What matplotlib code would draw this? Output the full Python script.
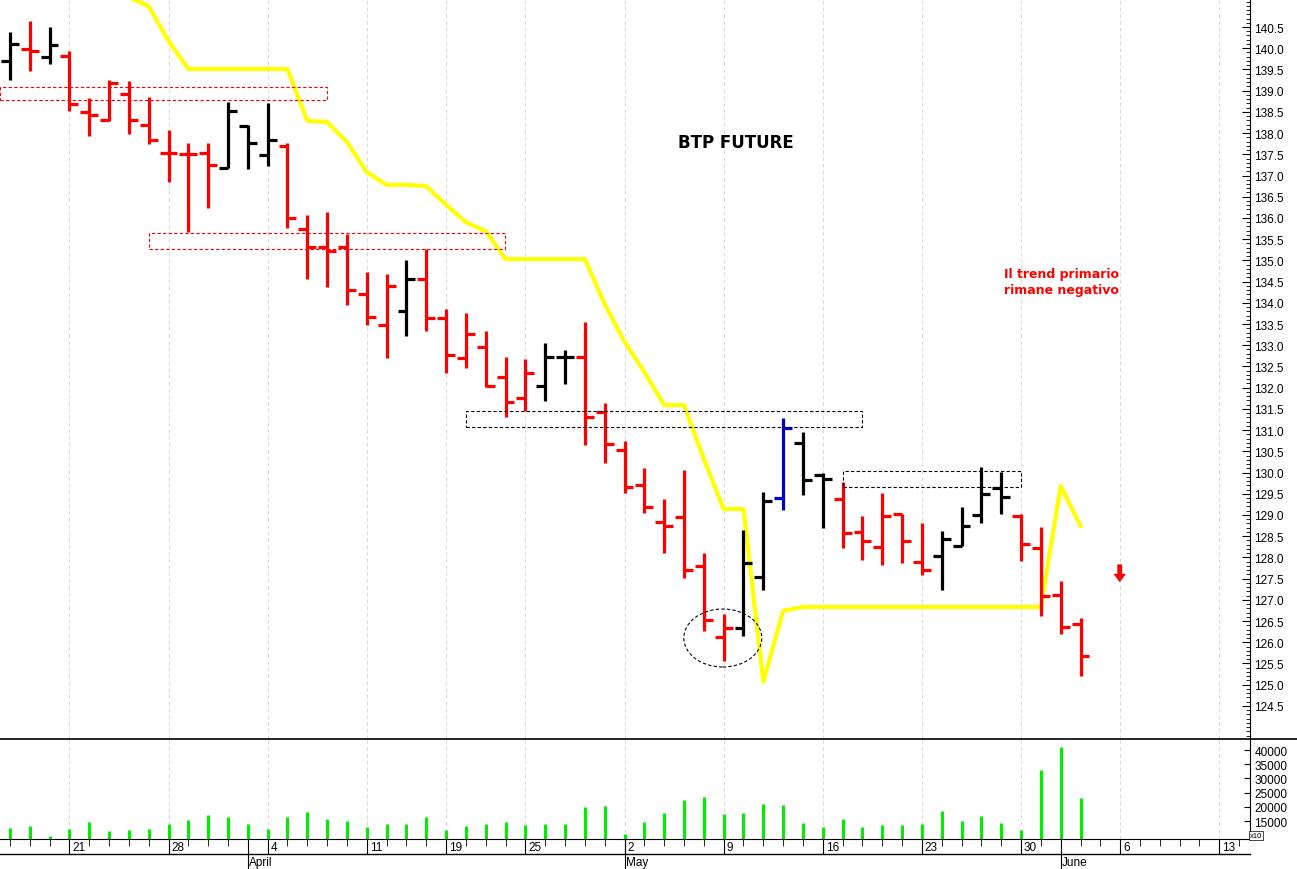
import matplotlib
matplotlib.use("Agg")
import matplotlib.pyplot as plt
from matplotlib.patches import Rectangle, Ellipse
import numpy as np

plt.rcParams['font.family'] = ['Liberation Sans', 'DejaVu Sans']

opens = [139.70,139.98,139.80,139.82,138.50,138.31,138.92,138.19,137.53,137.50,
         137.53,137.18,138.17,137.49,137.70,135.74,135.31,135.31,134.21,133.48,
         133.80,134.56,133.65,132.70,132.96,132.25,131.76,132.04,132.72,132.72,
         131.43,130.53,129.71,128.84,128.95,127.80,126.13,126.34,127.54,129.40,
         130.70,129.94,129.38,128.60,128.25,129.03,127.89,128.03,128.27,129.00,
         129.64,128.98,128.22,127.12,126.43]
highs = [140.38,140.64,140.50,139.93,138.83,139.25,139.22,138.85,138.07,137.76,
         137.76,138.73,138.19,138.71,137.77,136.08,136.15,135.63,134.73,134.68,
         135.00,135.27,133.86,133.76,133.34,132.72,132.68,133.05,132.89,133.55,
         131.64,130.74,130.11,129.38,130.06,128.10,126.67,128.65,129.54,131.29,
         130.96,129.99,129.78,128.98,129.52,129.03,128.81,128.62,129.19,130.13,
         130.01,129.03,128.72,127.45,126.57]
lows = [139.25,139.46,139.63,138.52,137.93,138.29,137.99,137.74,136.84,135.67,
        136.24,137.18,137.15,137.23,135.76,134.56,134.37,133.94,133.48,132.70,
        133.22,133.34,132.35,132.47,132.02,131.30,131.45,131.69,132.09,130.65,
        130.22,129.52,129.05,128.11,127.52,126.27,125.56,126.15,127.24,129.12,
        129.48,128.70,128.22,127.94,127.82,127.87,127.59,127.23,128.27,128.81,
        129.03,127.92,126.62,126.20,125.21]
closes = [140.10,139.93,140.08,138.69,138.43,139.18,138.31,137.84,137.53,137.50,
          137.25,138.52,137.77,137.84,135.99,135.31,135.22,134.30,133.66,134.40,
          134.56,133.64,132.76,133.27,132.04,131.66,132.35,132.72,132.72,131.30,
          130.67,129.66,129.19,128.74,127.70,126.53,126.34,127.87,129.33,131.05,
          129.83,129.85,128.58,128.39,128.98,128.39,127.71,128.43,128.74,129.50,
          129.43,128.32,127.09,126.36,125.68]
bar_colors = list("krkrrrrrrrrkkkrrrrrrkrrrrrrkkrrrrrrrrkkbkkrrrrrkkkkrrrr")
trend_line = [np.nan]*5 + [141.50,141.20,140.99,140.17,139.51,139.51,139.51,139.51,139.51,139.51,
              138.29,138.26,137.79,137.08,136.78,136.78,136.75,136.31,135.90,135.69,
              135.03,135.03,135.03,135.03,135.03,133.97,133.08,132.37,131.59,131.59,
              130.32,129.14,129.14,125.07,126.74,126.83,126.83,126.83,126.83,126.83,
              126.83,126.83,126.83,126.83,126.83,126.83,126.83,126.83,129.68,128.74]
volume = [12600,13300,9800,12300,14500,11500,11800,12300,13800,15300,
          17000,16500,14000,12200,16300,18100,15600,15000,13000,14000,
          14000,16300,12000,13200,13800,14500,13500,13800,13800,19800,
          20300,10500,14800,17800,22500,23500,17300,17800,21000,20800,
          14300,13000,15700,13000,13500,13500,14000,18500,15000,16800,
          14300,11800,33000,41000,23000]
day_ticks = [4, 9, 14, 19, 23, 27, 32, 37, 42, 47, 52, 57, 62]
day_labels = ["21", "28", "4", "11", "19", "25", "2", "9", "16", "23", "30", "6", "13"]
month_pos = [13, 32, 54]
month_labels = ["April", "May", "June"]

cmap = {'r': '#ff0000', 'k': '#000000', 'b': '#0000cc'}
n = len(opens)
xs = np.arange(1, n + 1)
H = 870.0
def fy(p):
    return 1 - p / H

fig = plt.figure(figsize=(12.97, 8.70), dpi=100)
ax = fig.add_axes([0, fy(740), 0.9638, 740 / H])
axv = fig.add_axes([0, fy(840), 0.9638, 100 / H], sharex=ax)

for x, o, h, l, c, col in zip(xs, opens, highs, lows, closes, bar_colors):
    cc = cmap[col]
    ax.plot([x, x], [l, h], color=cc, lw=2.3, solid_capstyle='butt', zorder=3)
    ax.plot([x - 0.45, x], [o, o], color=cc, lw=2.3, solid_capstyle='butt', zorder=3)
    ax.plot([x, x + 0.45], [c, c], color=cc, lw=2.3, solid_capstyle='butt', zorder=3)

ax.plot(xs, trend_line, color='#ffff00', lw=3, zorder=2)

def px2x(p):
    return 1 + (p - 10) / 19.83

for (x0, x1, y0, y1, col) in [(0, 327, 138.78, 139.09, '#ff0000'),
                              (149, 505, 135.27, 135.65, '#ff0000'),
                              (466, 862, 131.07, 131.45, '#000000'),
                              (843, 1021, 129.66, 130.04, '#000000')]:
    ax.add_patch(Rectangle((px2x(x0), y0), px2x(x1) - px2x(x0), y1 - y0, fill=False,
                           edgecolor=col, lw=0.8, ls=(0, (3, 2)), zorder=4))
ax.add_patch(Ellipse((px2x(723), 126.10), 78 / 19.83, 58 / 42.44, fill=False,
                     edgecolor='black', lw=0.8, ls=(0, (3, 2)), zorder=4))

ax.text(px2x(736), 137.8, "BTP FUTURE", ha='center', va='center', fontsize=12,
        fontweight='bold', family='DejaVu Sans')
ax.text(px2x(1062), 134.5, "Il trend primario\nrimane negativo", ha='center',
        va='center', fontsize=9, fontweight='bold', color='#ff0000', linespacing=1.3,
        family='DejaVu Sans')
ax.annotate("", xy=(px2x(1120), 127.35), xytext=(px2x(1120), 127.9),
            arrowprops=dict(arrowstyle='simple,head_width=0.9,head_length=0.6,tail_width=0.35',
                            color='#ff0000', lw=0))

ax.set_ylim(123.72, 141.16)
ax.set_xlim(0.5, 63.55)
ax.set_yticks(np.arange(124.5, 141.0, 0.5))
ax.set_yticks(np.arange(123.8, 141.2, 0.1), minor=True)
ax.yaxis.tick_right()
ax.yaxis.set_major_formatter(matplotlib.ticker.FormatStrFormatter('%.1f'))
ax.tick_params(axis='y', which='major', labelsize=8.5, length=6, direction='in', pad=3)
ax.tick_params(axis='y', which='minor', length=3, direction='in')
for s in ['left', 'top', 'bottom']:
    ax.spines[s].set_visible(False)
ax.tick_params(axis='x', bottom=False, labelbottom=False)
for t in day_ticks:
    ax.axvline(t, color='#d8d8e0', lw=0.7, ls=(0, (4, 3)), zorder=0)
    axv.axvline(t, color='#d8d8e0', lw=0.7, ls=(0, (4, 3)), zorder=0)

axv.vlines(xs, 0, volume, color='#00ee00', lw=2.2)
axv.set_ylim(8660, 43900)
axv.set_yticks(np.arange(15000, 40001, 5000))
axv.yaxis.tick_right()
axv.tick_params(axis='y', labelsize=8.5, length=4, direction='in', pad=3)
for s in ['left', 'top']:
    axv.spines[s].set_visible(False)
axv.set_xticks(day_ticks)
axv.set_xticklabels([])
axv.set_xticks(np.arange(1, 64), minor=True)
axv.tick_params(axis='x', which='major', length=11, direction='out')
axv.tick_params(axis='x', which='minor', length=5, direction='out')
for t, lab in zip(day_ticks, day_labels):
    axv.annotate(lab, xy=(t, 0), xycoords=('data', 'axes fraction'), xytext=(2, -1.5),
                 textcoords='offset points', fontsize=8.5, ha='left', va='top',
                 annotation_clip=False)
for p, m in zip(month_pos, month_labels):
    axv.annotate(m, xy=(p, 0), xycoords=('data', 'axes fraction'), xytext=(1, -12.5),
                 textcoords='offset points', fontsize=8.5, ha='left', va='top',
                 annotation_clip=False)
    axv.plot([p, p], [0, -0.3], transform=axv.get_xaxis_transform(), color='black',
             lw=0.8, clip_on=False)
axv.text(1.0, 0.0, "x10", transform=axv.transAxes, fontsize=5.5, ha='left', va='bottom',
         bbox=dict(facecolor='white', edgecolor='black', lw=0.5, pad=0.5))
fig.add_artist(plt.Line2D([0, 1], [fy(740), fy(740)], color='black', lw=1.2))
fig.add_artist(plt.Line2D([0, 0.9638], [fy(855), fy(855)], color='black', lw=1.0))

fig.savefig("out.png", dpi=100)
